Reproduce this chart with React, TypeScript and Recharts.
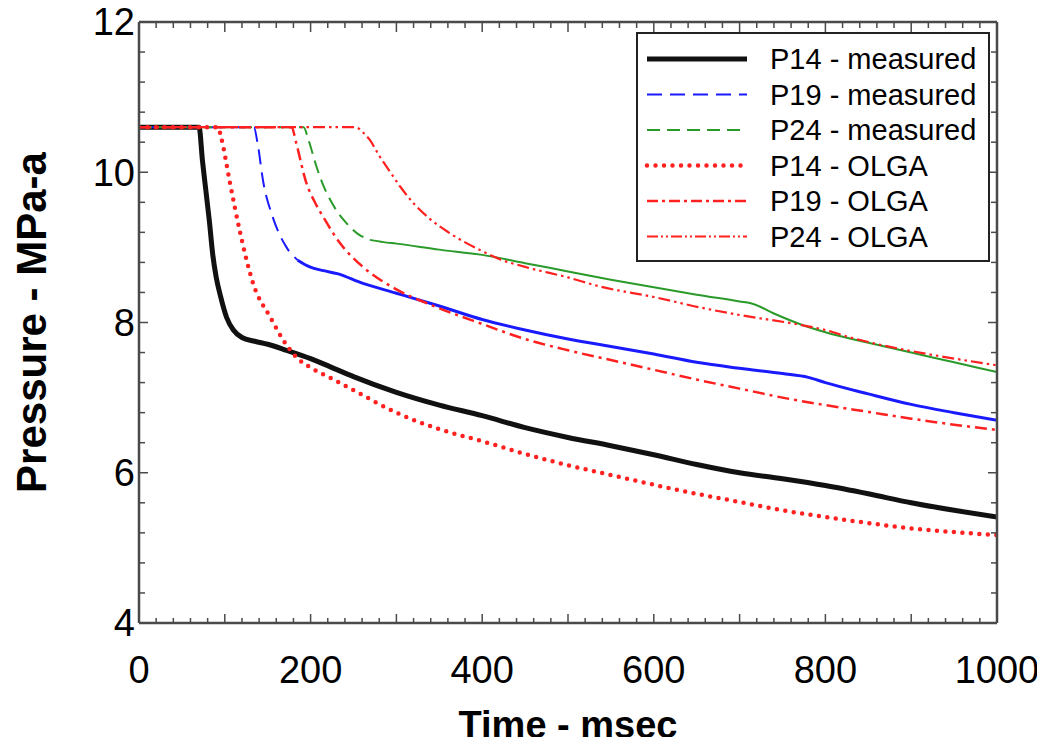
import React from "react";
import { LineChart, Line, XAxis, YAxis, Legend } from "recharts";

// time in msec, pressure in MPa-a
const p14MeasT = [0, 70, 74, 78, 82, 86, 90, 95, 102, 110, 120, 135, 150, 172, 200, 223, 250, 300, 350, 400, 450, 500, 550, 600, 650, 700, 750, 800, 850, 900, 950, 1000];
const p14MeasP = [10.6, 10.6, 10.15, 9.75, 9.35, 8.9, 8.6, 8.35, 8.07, 7.9, 7.8, 7.75, 7.71, 7.63, 7.52, 7.41, 7.28, 7.07, 6.9, 6.76, 6.6, 6.47, 6.36, 6.24, 6.11, 6.0, 5.92, 5.83, 5.72, 5.6, 5.5, 5.41];

const p19MeasT = [0, 134, 138, 145, 156, 172, 185, 199, 215, 231, 261, 300, 350, 400, 450, 500, 550, 600, 650, 700, 750, 780, 800, 850, 900, 950, 1000];
const p19MeasP = [10.6, 10.6, 10.4, 9.86, 9.4, 9.0, 8.83, 8.74, 8.69, 8.65, 8.52, 8.39, 8.22, 8.04, 7.9, 7.78, 7.68, 7.58, 7.47, 7.39, 7.32, 7.27, 7.2, 7.05, 6.91, 6.8, 6.7];

const p24MeasT = [0, 192, 197, 207, 215, 223, 232, 242, 255, 269, 285, 300, 350, 400, 450, 500, 550, 600, 650, 700, 715, 740, 770, 800, 850, 900, 950, 1000];
const p24MeasP = [10.6, 10.6, 10.45, 10.07, 9.82, 9.63, 9.46, 9.32, 9.18, 9.1, 9.07, 9.05, 8.97, 8.9, 8.79, 8.68, 8.57, 8.47, 8.37, 8.28, 8.25, 8.12, 7.98, 7.87, 7.73, 7.6, 7.47, 7.34];

const p14OlgaT = [0, 92, 96, 106, 118, 133, 153, 172, 185, 200, 222, 250, 300, 350, 400, 450, 500, 550, 600, 650, 700, 750, 800, 850, 900, 950, 1000];
const p14OlgaP = [10.6, 10.6, 10.45, 9.86, 9.19, 8.52, 8.07, 7.7, 7.52, 7.4, 7.27, 7.1, 6.8, 6.58, 6.42, 6.25, 6.1, 5.97, 5.84, 5.72, 5.61, 5.5, 5.41, 5.33, 5.26, 5.21, 5.17];

const p19OlgaT = [0, 178, 183, 195, 205, 215, 234, 261, 300, 339, 400, 450, 500, 550, 600, 650, 700, 750, 800, 850, 900, 950, 1000];
const p19OlgaP = [10.6, 10.6, 10.4, 9.86, 9.6, 9.4, 9.06, 8.74, 8.44, 8.24, 7.98, 7.78, 7.63, 7.5, 7.37, 7.24, 7.12, 7.0, 6.9, 6.81, 6.72, 6.64, 6.57];

const p24OlgaT = [0, 252, 262, 269, 280, 293, 305, 319, 339, 362, 400, 421, 450, 500, 537, 600, 654, 700, 770, 800, 829, 850, 900, 950, 1000];
const p24OlgaP = [10.6, 10.6, 10.52, 10.43, 10.22, 10.0, 9.8, 9.6, 9.38, 9.19, 8.95, 8.84, 8.74, 8.6, 8.48, 8.34, 8.2, 8.1, 7.97, 7.9, 7.8, 7.74, 7.62, 7.52, 7.43];

// measured traces look dashed only on the fast drop, solid afterwards
const p19DashEnd = 185;
const p24DashEnd = 269;

const xMinorTicks = Array.from({ length: 51 }, (_, i) => i * 20);
const yMinorTicks = Array.from({ length: 21 }, (_, i) => Math.round((4 + i * 0.4) * 10) / 10);

const FONT = "'Liberation Sans', Arial, Helvetica, sans-serif";
const FRAME = "#4a4a4a";
const RED = "#ff2020";
const X_GAP = 33;
const Y_GAP = 4;

const toPoints = (t: number[], p: number[]) => t.map((x, i) => ({ t: x, p: p[i] }));

const p14Meas = toPoints(p14MeasT, p14MeasP);
const p19Meas = toPoints(p19MeasT, p19MeasP);
const p24Meas = toPoints(p24MeasT, p24MeasP);
const p14Olga = toPoints(p14OlgaT, p14OlgaP);
const p19Olga = toPoints(p19OlgaT, p19OlgaP);
const p24Olga = toPoints(p24OlgaT, p24OlgaP);

const legendItems = [
  { name: "P14 - measured", color: "#111111", width: 5, dash: undefined, cap: "butt" },
  { name: "P19 - measured", color: "#1a1aff", width: 2, dash: "15 8", cap: "butt" },
  { name: "P24 - measured", color: "#2a9a2a", width: 2, dash: "13 7", cap: "butt" },
  { name: "P14 - OLGA", color: RED, width: 4.5, dash: "0 8.5", cap: "round" },
  { name: "P19 - OLGA", color: RED, width: 2.5, dash: "11 4 3 4", cap: "butt" },
  { name: "P24 - OLGA", color: RED, width: 2.2, dash: "11 3 2 3 2 3", cap: "butt" },
];

const isEven = (v: number) => Math.abs(v - Math.round(v)) < 1e-6 && Math.round(v) % 2 === 0;

const BottomTick = ({ x, y, payload }: any) => {
  const v = payload.value;
  const axisY = y - X_GAP;
  return (
    <g>
      <line x1={x} x2={x} y1={axisY} y2={axisY - (v % 100 === 0 ? 9 : 5)} stroke={FRAME} strokeWidth={1.5} />
      {v % 200 === 0 && (
        <text x={x} y={y} dy="0.71em" textAnchor="middle" fontSize={38} fontFamily={FONT} fill="#000">
          {v}
        </text>
      )}
    </g>
  );
};

// top axis is 1px tall, so its line sits at y + 1
const TopTick = ({ x, y, payload }: any) => (
  <line x1={x} x2={x} y1={y + 1} y2={y + 1 + (payload.value % 100 === 0 ? 9 : 5)} stroke={FRAME} strokeWidth={1.5} />
);

const LeftTick = ({ x, y, payload }: any) => {
  const v = payload.value;
  const axisX = x + Y_GAP;
  return (
    <g>
      <line x1={axisX} x2={axisX + (isEven(v) ? 9 : 6)} y1={y} y2={y} stroke={FRAME} strokeWidth={1.5} />
      {isEven(v) && (
        <text x={x} y={y} dy="0.355em" textAnchor="end" fontSize={38} fontFamily={FONT} fill="#000">
          {v}
        </text>
      )}
    </g>
  );
};

const RightTick = ({ x, y, payload }: any) => (
  <line x1={x} x2={x - (isEven(payload.value) ? 9 : 6)} y1={y} y2={y} stroke={FRAME} strokeWidth={1.5} />
);

const YTitle = (props: any) => {
  const vb = props.viewBox;
  const cx = vb.x + 31;
  const cy = vb.y + vb.height / 2;
  return (
    <text
      x={cx}
      y={cy}
      transform={`rotate(-90, ${cx}, ${cy})`}
      textAnchor="middle"
      dominantBaseline="central"
      fontSize={42}
      fontWeight="bold"
      fontFamily={FONT}
      fill="#000"
    >
      Pressure - MPa-a
    </text>
  );
};

const LegendBox = () => (
  <div style={{ width: 354, height: 230, border: "2px solid #222", background: "#fff", boxSizing: "border-box" }}>
    <svg width={350} height={226}>
      {legendItems.map((s, i) => {
        const y = 25 + i * 35.5;
        return (
          <g key={s.name}>
            <line
              x1={9}
              x2={109}
              y1={y}
              y2={y}
              stroke={s.color}
              strokeWidth={s.width}
              strokeDasharray={s.dash}
              strokeLinecap={s.cap as any}
            />
            <text x={132} y={y} dy="0.355em" fontSize={29} fontFamily={FONT} fill="#000">
              {s.name}
            </text>
          </g>
        );
      })}
    </svg>
  </div>
);

const App = () => {
  return (
    <div style={{ margin: -8 }}>
      <LineChart width={1045} height={745} margin={{ top: 21, right: 47, bottom: 0, left: 0 }}>
        <XAxis
          dataKey="t"
          type="number"
          domain={[0, 1000]}
          allowDataOverflow
          ticks={xMinorTicks}
          interval={0}
          tick={<BottomTick />}
          tickLine={false}
          tickSize={X_GAP}
          tickMargin={0}
          height={122}
          axisLine={{ stroke: FRAME, strokeWidth: 2.5 }}
          label={{
            value: "Time - msec",
            position: "insideBottom",
            offset: 7,
            style: { fontSize: 38, fontWeight: "bold", fontFamily: FONT, fill: "#000" },
          }}
        />
        <XAxis
          xAxisId="top"
          orientation="top"
          dataKey="t"
          type="number"
          domain={[0, 1000]}
          allowDataOverflow
          ticks={xMinorTicks}
          interval={0}
          tick={<TopTick />}
          tickLine={false}
          tickSize={0}
          tickMargin={0}
          height={1}
          axisLine={{ stroke: FRAME, strokeWidth: 2.5 }}
        />
        <YAxis
          type="number"
          domain={[4, 12]}
          allowDataOverflow
          ticks={yMinorTicks}
          interval={0}
          tick={<LeftTick />}
          tickLine={false}
          tickSize={Y_GAP}
          tickMargin={0}
          width={139}
          axisLine={{ stroke: FRAME, strokeWidth: 2.5 }}
          label={{ content: <YTitle /> }}
        />
        <YAxis
          yAxisId="right"
          orientation="right"
          type="number"
          domain={[4, 12]}
          allowDataOverflow
          ticks={yMinorTicks}
          interval={0}
          tick={<RightTick />}
          tickLine={false}
          tickSize={0}
          tickMargin={0}
          width={1}
          axisLine={{ stroke: FRAME, strokeWidth: 2.5 }}
        />
        <Legend
          layout="vertical"
          align="center"
          verticalAlign="middle"
          wrapperStyle={{ position: "absolute", left: 636, top: 32, width: 354, height: 230 }}
          content={() => <LegendBox />}
        />

        <Line data={p14Meas} dataKey="p" type="monotone" stroke="#111111" strokeWidth={5} dot={false} isAnimationActive={false} />
        <Line
          data={p19Meas.filter((d) => d.t <= p19DashEnd)}
          dataKey="p"
          type="monotone"
          stroke="#1a1aff"
          strokeWidth={2}
          strokeDasharray="15 8"
          dot={false}
          isAnimationActive={false}
        />
        <Line
          data={p19Meas.filter((d) => d.t >= p19DashEnd)}
          dataKey="p"
          type="monotone"
          stroke="#1a1aff"
          strokeWidth={3}
          dot={false}
          isAnimationActive={false}
        />
        <Line
          data={p24Meas.filter((d) => d.t <= p24DashEnd)}
          dataKey="p"
          type="monotone"
          stroke="#2a9a2a"
          strokeWidth={2}
          strokeDasharray="13 7"
          dot={false}
          isAnimationActive={false}
        />
        <Line
          data={p24Meas.filter((d) => d.t >= p24DashEnd)}
          dataKey="p"
          type="monotone"
          stroke="#2a9a2a"
          strokeWidth={2}
          dot={false}
          isAnimationActive={false}
        />
        <Line
          data={p14Olga}
          dataKey="p"
          type="monotone"
          stroke={RED}
          strokeWidth={4.5}
          strokeDasharray="0 8.5"
          strokeLinecap="round"
          dot={false}
          isAnimationActive={false}
        />
        <Line
          data={p19Olga}
          dataKey="p"
          type="monotone"
          stroke={RED}
          strokeWidth={2.5}
          strokeDasharray="12 5 3 5"
          dot={false}
          isAnimationActive={false}
        />
        {/* bound to the top/right axes (same domains) so the frame on those sides gets drawn */}
        <Line
          data={p24Olga}
          xAxisId="top"
          yAxisId="right"
          dataKey="p"
          type="monotone"
          stroke={RED}
          strokeWidth={2.2}
          strokeDasharray="12 4 2.5 4 2.5 4"
          dot={false}
          isAnimationActive={false}
        />
      </LineChart>
    </div>
  );
};

export default App;
